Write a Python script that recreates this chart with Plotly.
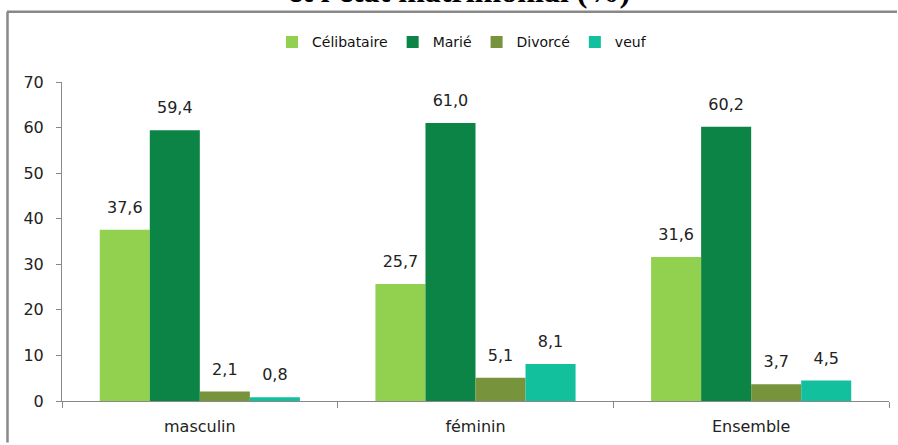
import plotly.graph_objects as go

categories = ["masculin", "féminin", "Ensemble"]
series_names = ["Célibataire", "Marié", "Divorcé", "veuf"]
celibataire = [37.6, 25.7, 31.6]
marie = [59.4, 61.0, 60.2]
divorce = [2.1, 5.1, 3.7]
veuf = [0.8, 8.1, 4.5]
series_values = [celibataire, marie, divorce, veuf]
colors = ["#92D050", "#0B8446", "#77933C", "#13C09D"]
y_ticks = [0, 10, 20, 30, 40, 50, 60, 70]

W, H = 898, 445
ml, mr, mt, mb = 62, 9, 82, 41
pw, ph = W - ml - mr, H - mt - mb

def px_x(x):
    return (x - ml) / pw

def px_y(y):
    return (H - mb - y) / ph

FONT = "DejaVu Sans"

fig = go.Figure()
for name, vals, col in zip(series_names, series_values, colors):
    fig.add_trace(go.Bar(
        name=name, x=categories, y=vals, marker_color=col,
        marker_line_width=0, offsetgroup=name,
        hoverinfo="skip",
    ))
for name, vals in zip(series_names, series_values):
    fig.add_trace(go.Scatter(
        x=categories, y=vals, mode="markers+text", offsetgroup=name,
        marker=dict(size=19, opacity=0), showlegend=False,
        text=[f"{v:.1f}".replace(".", ",") for v in vals],
        textposition="top center", cliponaxis=False, hoverinfo="skip",
        textfont=dict(family=FONT, size=16, color="#222"),
    ))

fig.update_layout(
    width=W, height=H,
    margin=dict(l=ml, r=mr, t=mt, b=mb),
    paper_bgcolor="white", plot_bgcolor="white",
    barmode="group", bargap=0.274, bargroupgap=0,
    scattermode="group", scattergap=0.274,
    font=dict(family=FONT, color="#222"),
    legend=dict(orientation="h", x=px_x(462), xanchor="center",
                y=px_y(42), yanchor="middle",
                font=dict(family=FONT, size=14, color="#111"),
                itemwidth=30, traceorder="normal"),
    xaxis=dict(showline=True, linecolor="#888", linewidth=1,
               ticks="outside", tickson="boundaries", ticklen=6,
               tickcolor="#888", tickfont=dict(size=16, color="#222"),
               ticklabelstandoff=11, showgrid=False),
    yaxis=dict(range=[0, 70], tickvals=y_ticks, showline=True,
               linecolor="#888", linewidth=1, ticks="outside", ticklen=5,
               tickcolor="#888", tickfont=dict(size=16, color="#222"),
               ticklabelstandoff=9, showgrid=False, zeroline=False),
    shapes=[
        dict(type="line", xref="paper", yref="paper",
             x0=px_x(7), x1=px_x(897), y0=px_y(11), y1=px_y(11),
             line=dict(color="#888", width=2.5)),
        dict(type="line", xref="paper", yref="paper",
             x0=px_x(7.5), x1=px_x(7.5), y0=px_y(11), y1=px_y(446),
             line=dict(color="#888", width=2.5)),
    ],
    annotations=[
        dict(text="<b>et l'état matrimonial (%)</b>", xref="paper", yref="paper",
             x=px_x(459), y=px_y(10.5), xanchor="center", yanchor="bottom",
             showarrow=False,
             font=dict(family="Liberation Serif", size=32, color="#000")),
    ],
)

fig.write_html(
    "out.html",
    config={"displayModeBar": False},
    post_script="document.body.style.margin='0';document.body.style.overflow='hidden';",
)
